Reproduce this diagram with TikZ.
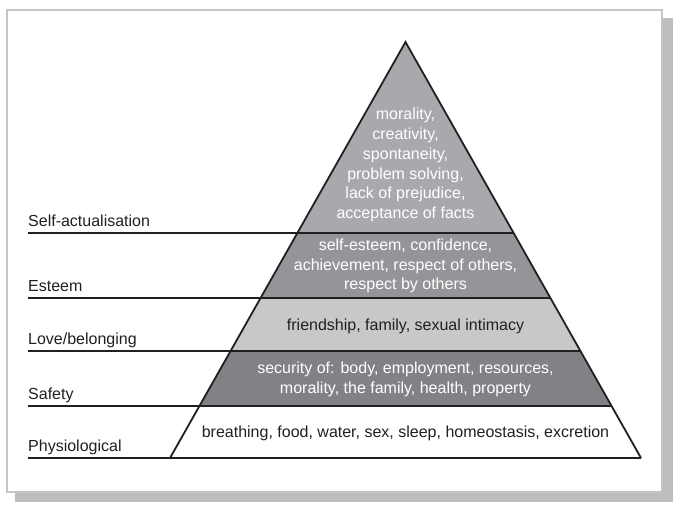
\documentclass[tikz,border=0pt]{standalone}
\usepackage{fontspec}
\setmainfont{Liberation Sans}
\usetikzlibrary{calc}
\definecolor{inkc}{HTML}{231F20}
\definecolor{framec}{HTML}{C4C5C7}
\definecolor{shadowc}{HTML}{BCBEC0}
\definecolor{topc}{HTML}{A7A9AC}
\definecolor{esteemc}{HTML}{939598}
\definecolor{lovec}{HTML}{C7C8CA}
\definecolor{safetyc}{HTML}{808285}
\begin{document}
\begin{tikzpicture}[x=1pt,y=-1pt,
  edge/.style={draw=inkc,line width=1.8pt,line join=miter},
  lvl/.style={font=\fontsize{16}{19.6}\selectfont,text=inkc,anchor=base west,inner sep=0pt},
  ptext/.style={font=\fontsize{16}{19.8}\selectfont,align=center,inner sep=0pt},
  wtext/.style={ptext,text=white},
  btext/.style={ptext,text=inkc}]
\useasboundingbox (0,0) rectangle (679,509);
% frame and shadow
\fill[shadowc] (663,18) rectangle (673,502);
\fill[shadowc] (15,493) rectangle (673,502);
\draw[framec,line width=2pt,fill=white] (7,10) rectangle (662,492);
% pyramid coordinates
\coordinate (A) at (405.5,42);
\coordinate (BL) at (170,458);
\coordinate (BR) at (641,458);
\coordinate (L1) at ($(A)!0.4591!(BL)$);
\coordinate (R1) at ($(A)!0.4591!(BR)$);
\coordinate (L2) at ($(A)!0.6154!(BL)$);
\coordinate (R2) at ($(A)!0.6154!(BR)$);
\coordinate (L3) at ($(A)!0.7428!(BL)$);
\coordinate (R3) at ($(A)!0.7428!(BR)$);
\coordinate (L4) at ($(A)!0.875!(BL)$);
\coordinate (R4) at ($(A)!0.875!(BR)$);
% fills
\fill[topc] (A) -- (R1) -- (L1) -- cycle;
\fill[esteemc] (L1) -- (R1) -- (R2) -- (L2) -- cycle;
\fill[lovec] (L2) -- (R2) -- (R3) -- (L3) -- cycle;
\fill[safetyc] (L3) -- (R3) -- (R4) -- (L4) -- cycle;
% label line starts
\coordinate (s1) at (28,233);
\coordinate (s2) at (28,298);
\coordinate (s3) at (28,351);
\coordinate (s4) at (28,406);
\coordinate (s5) at (28,458);
\draw[edge] (s1) -- (R1);
\draw[edge] (s2) -- (R2);
\draw[edge] (s3) -- (R3);
\draw[edge] (s4) -- (R4);
\draw[edge] (s5) -- (BR);
\draw[edge] (BL) -- (A) -- (BR);
% level labels
\node[lvl] (n1) at (28,226) {Self-actualisation};
\node[lvl] (n2) at (28,291) {Esteem};
\node[lvl] (n3) at (28,344) {Love/belonging};
\node[lvl] (n4) at (28,399) {Safety};
\node[lvl] (n5) at (28,451) {Physiological};
% pyramid texts
\node[wtext] (t1) at (405.5,165) {morality,\\creativity,\\spontaneity,\\problem solving,\\lack of prejudice,\\acceptance of facts};
\node[wtext] (t2) at (405.5,266) {self-esteem, confidence,\\achievement, respect of others,\\respect by others};
\node[btext] (t3) at (405.5,326) {friendship, family, sexual intimacy};
\node[wtext] (t4) at (405.5,379) {security of: body, employment, resources,\\morality, the family, health, property};
\node[btext] (t5) at (405.5,433) {breathing, food, water, sex, sleep, homeostasis, excretion};
\end{tikzpicture}
\end{document}
